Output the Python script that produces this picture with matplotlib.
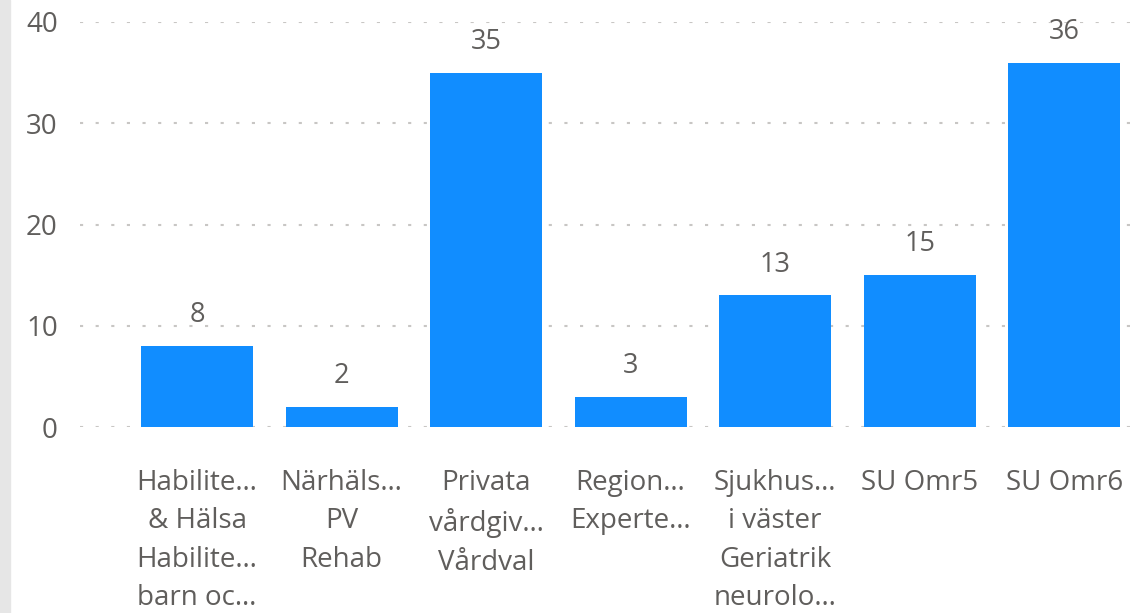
import matplotlib
matplotlib.use("Agg")
import matplotlib.pyplot as plt
from matplotlib.patches import Rectangle

plt.rcParams['font.family'] = ['Open Sans', 'DejaVu Sans']

# data
categories = [
    "Habilite…\n& Hälsa\nHabilite…\nbarn oc…",
    "Närhäls…\nPV\nRehab",
    "Privata\nvårdgiv…\nVårdval",
    "Region…\nExperte…",
    "Sjukhus…\ni väster\nGeriatrik\nneurolo…",
    "SU Omr5",
    "SU Omr6",
]
values = [8, 2, 35, 3, 13, 15, 36]
yticks = [0, 10, 20, 30, 40]

bar_color = '#118DFF'
text_color = '#605E5C'
grid_color = '#C8C6C4'

fig = plt.figure(figsize=(11.35, 6.13), dpi=100)
fig.patches.append(Rectangle((0, 0), 10 / 1135, 1, transform=fig.transFigure,
                             color='#E6E6E6', zorder=0))

ax = fig.add_axes([80 / 1135, 186 / 613, 1 - 80 / 1135, (427 - 22) / 613])

x = list(range(len(categories)))
bars = ax.bar(x, values, width=0.775, color=bar_color, zorder=3)

for xi, v in zip(x, values):
    ax.annotate(str(v), (xi, v), xytext=(0, 12), textcoords='offset points',
                ha='center', va='bottom', fontsize=19.5, color=text_color,
                clip_on=False)

ax.set_xlim(-0.81, 6.49)
ax.set_ylim(0, 40)
ax.set_yticks(yticks)
ax.set_yticklabels([str(t) for t in yticks])
ax.set_xticks(x)
ax.set_xticklabels(categories, linespacing=1.5)

for t in yticks:
    ax.axhline(t, color=grid_color, lw=1.5, dashes=(1.5, 6), zorder=1)

for s in ax.spines.values():
    s.set_visible(False)
ax.tick_params(axis='both', length=0, colors=text_color, labelsize=20)
ax.tick_params(axis='y', pad=16)
ax.tick_params(axis='x', pad=30)
for lbl in ax.get_xticklabels():
    lbl.set_verticalalignment('top')

fig.savefig('out.png', dpi=100)
